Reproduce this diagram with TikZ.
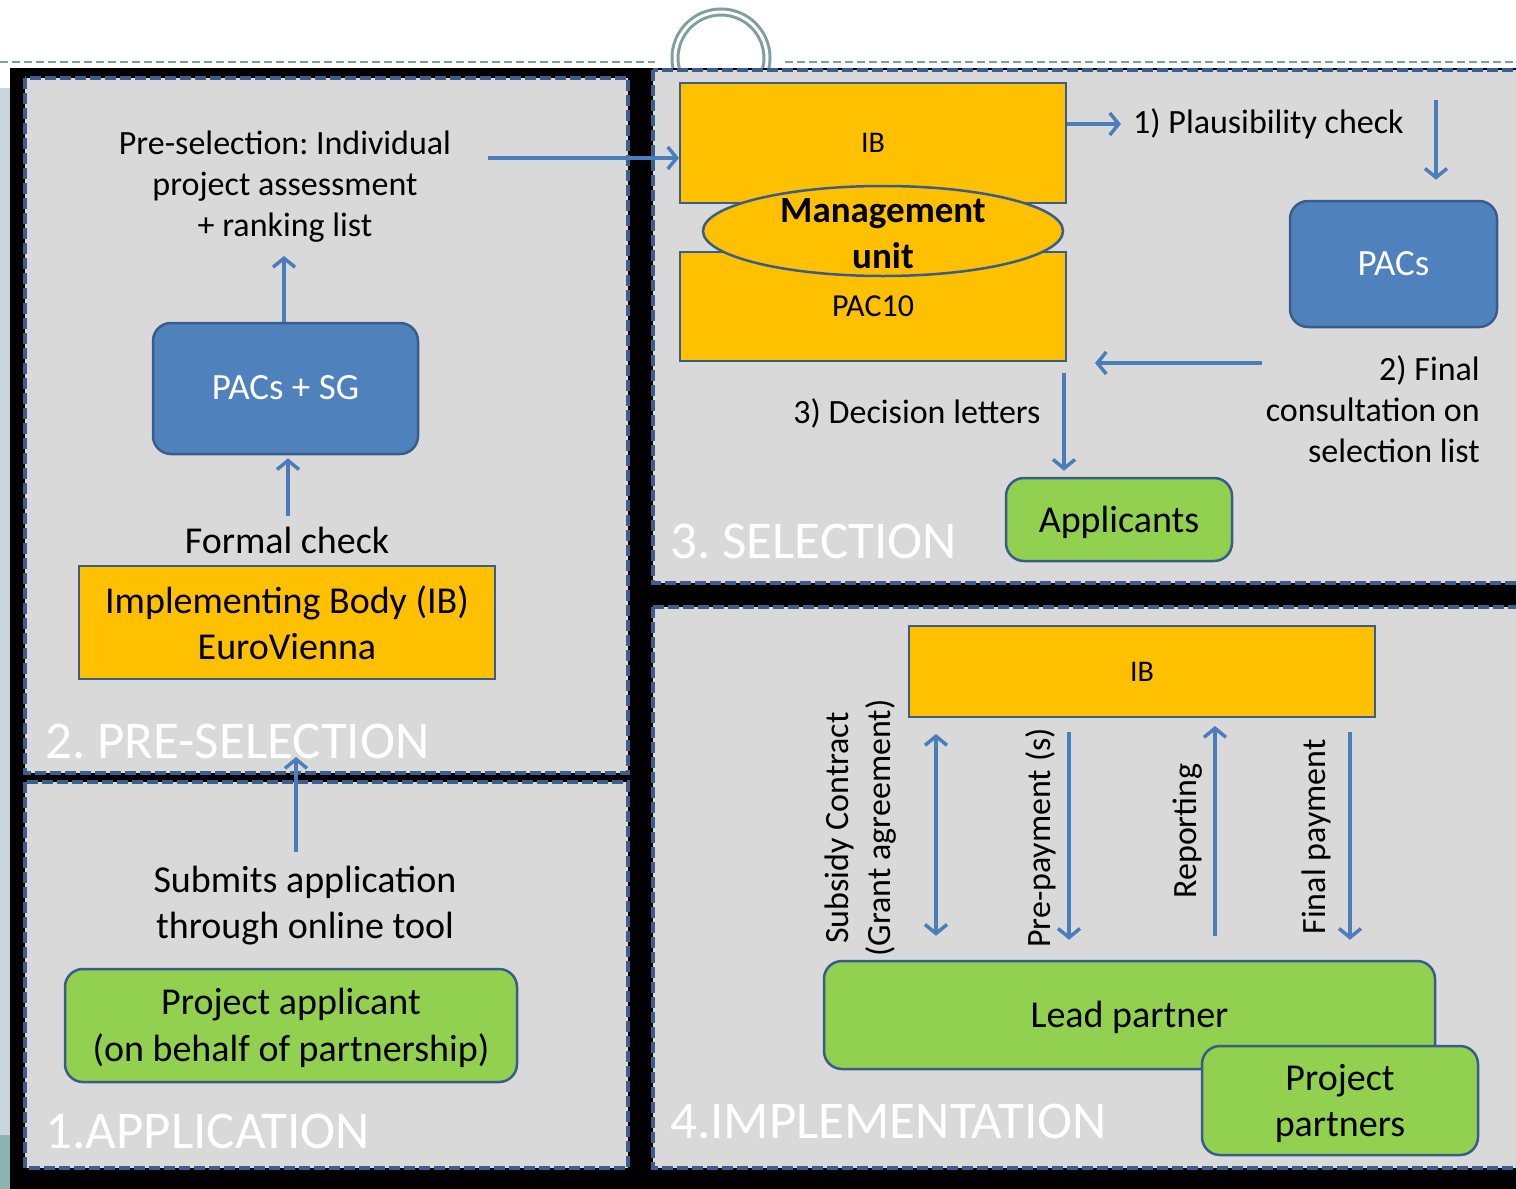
\documentclass[tikz,border=0pt]{standalone}
\usepackage{fontspec}
\setmainfont{Carlito}
\usetikzlibrary{arrows.meta,shapes.geometric}
\definecolor{orng}{HTML}{FFC000}
\definecolor{bfill}{HTML}{4F81BD}
\definecolor{bdr}{HTML}{385D8A}
\definecolor{grn}{HTML}{92D050}
\definecolor{arr}{HTML}{4A7EBB}
\definecolor{panelgray}{HTML}{D9D9D9}
\definecolor{dashblue}{HTML}{3B5E8C}
\definecolor{topline}{HTML}{7F9F9F}
\definecolor{stripA}{HTML}{C8D5DC}
\definecolor{stripB}{HTML}{8EB4B1}
\begin{document}
\frenchspacing
\begin{tikzpicture}[x=1pt,y=-1pt,
  panelbox/.style={fill=panelgray,draw=dashblue,line width=3.5pt,dash pattern=on 11pt off 4pt},
  orbox/.style={draw=bdr,fill=orng,line width=2pt,inner sep=0pt},
  bluebox/.style={draw=bdr,fill=bfill,line width=2.5pt,rounded corners=18pt,inner sep=0pt,text=white},
  greenbox/.style={draw=bdr,fill=grn,line width=2.5pt,rounded corners=18pt,inner sep=0pt},
  flow/.style={draw=arr,line width=3.5pt,-{Straight Barb[length=9pt,width=22pt]}},
  flowboth/.style={draw=arr,line width=3.5pt,{Straight Barb[length=9pt,width=22pt]}-{Straight Barb[length=9pt,width=22pt]}},
  lbl/.style={inner sep=2pt,align=center},
  title/.style={text=white,font=\fontsize{53}{53}\selectfont\frenchspacing,anchor=base west,inner sep=0pt}
]
\useasboundingbox (0,0) rectangle (1516,1189);
\fill[white] (0,0) rectangle (1516,1189);
% left strips
\fill[stripA] (0,88) rectangle (12,1135);
\fill[stripB] (0,1135) rectangle (12,1189);
% top dashed line and ring
\draw[topline,line width=2pt,dash pattern=on 8pt off 4pt] (0,62) -- (655,62);
\draw[topline,line width=2pt,dash pattern=on 8pt off 4pt] (785,62) -- (1516,62);
\draw[topline,line width=3pt,double=white,double distance=3pt] (721,58) circle[radius=46];
% black frame
\fill[black] (10,68) rectangle (1516,1189);
% panels
\draw[panelbox] (25,78) rectangle (628,773);
\draw[panelbox] (25,782) rectangle (628,1168);
\draw[panelbox] (653,70) rectangle (1530,583);
\draw[panelbox] (653,607) rectangle (1530,1168);

% ---------- 2. PRE-SELECTION ----------
\node[lbl,font=\fontsize{34}{41}\selectfont] (psel) at (285,187) {Pre-selection: Individual\\project assessment\\+ ranking list};
\node[bluebox,minimum width=265pt,minimum height=131pt,text depth=2pt,font=\fontsize{37}{44}\selectfont] (pacsg) at (285.5,388.5) {PACs + SG};
\node[lbl,font=\fontsize{38}{46}\selectfont] (formal) at (287,540) {Formal check};
\node[orbox,minimum width=416pt,minimum height=113pt,align=center,font=\fontsize{38}{46}\selectfont] (ib2) at (287,622.5) {Implementing Body (IB)\\EuroVienna};
\node[title] (t2) at (45,758) {2. PRE-SELECTION};

% ---------- 1. APPLICATION ----------
\node[lbl,font=\fontsize{38}{46}\selectfont] (submit) at (305,906) {Submits application\\through online tool};
\node[greenbox,minimum width=452pt,minimum height=113pt,align=center,text depth=2pt,font=\fontsize{38}{47}\selectfont] (applicant) at (291,1025.5) {Project applicant\\(on behalf of partnership)};
\node[title] (t1) at (45,1148) {1.APPLICATION};

% ---------- 3. SELECTION ----------
\node[orbox,minimum width=386pt,minimum height=120pt,font=\fontsize{30}{36}\selectfont] (ib3) at (873,143) {IB};
\node[orbox,minimum width=386pt,minimum height=109pt,font=\fontsize{32}{36}\selectfont] (pac10) at (873,306.5) {PAC10};
\node[ellipse,draw=bdr,fill=orng,line width=2.5pt,minimum width=360pt,minimum height=90pt,inner sep=0pt] (mu) at (883,231) {};
\node[lbl,font=\bfseries\fontsize{37}{46}\selectfont] (mutext) at (883,234) {Management\\unit};
\node[lbl,anchor=west,font=\fontsize{34}{41}\selectfont] (plaus) at (1131,124) {1) Plausibility check};
\node[bluebox,minimum width=207pt,minimum height=126pt,text depth=2pt,font=\fontsize{37}{44}\selectfont] (pacs) at (1393.5,264) {PACs};
\node[lbl,anchor=east,align=right,font=\fontsize{34}{41}\selectfont] (final) at (1482,409) {2) Final\\consultation on\\selection list};
\node[lbl,font=\fontsize{34}{41}\selectfont] (declet) at (917,413) {3) Decision letters};
\node[greenbox,minimum width=226pt,minimum height=83pt,text depth=0pt,font=\fontsize{38}{44}\selectfont] (appl) at (1119,519.5) {Applicants};
\node[title] (t3) at (670,558) {3. SELECTION};

% ---------- 4. IMPLEMENTATION ----------
\node[orbox,minimum width=466pt,minimum height=91pt,font=\fontsize{30}{36}\selectfont] (ib4) at (1142,671.5) {IB};
\node[greenbox,minimum width=611pt,minimum height=108pt,text depth=1pt,font=\fontsize{38}{44}\selectfont] (lead) at (1129.5,1015) {Lead partner};
\node[greenbox,minimum width=276pt,minimum height=109pt,align=center,text depth=0pt,font=\fontsize{38}{46}\selectfont] (partners) at (1340,1100.5) {Project\\partners};
\node[lbl,rotate=90,font=\fontsize{34}{42}\selectfont] (subsidy) at (861,828) {Subsidy Contract\\(Grant agreement)};
\node[lbl,rotate=90,font=\fontsize{34}{42}\selectfont] (prepay) at (1041,838) {Pre-payment (s)};
\node[lbl,rotate=90,font=\fontsize{34}{42}\selectfont] (report) at (1188,831) {Reporting};
\node[lbl,rotate=90,font=\fontsize{34}{42}\selectfont] (finpay) at (1316,837) {Final payment};
\node[title] (t4) at (670,1138) {4.IMPLEMENTATION};

% ---------- connectors ----------
\coordinate (pselout) at (488,158);
\draw[flow] (pselout) -- (ib3.west |- pselout);
\draw[flow,shorten >=11pt] ([xshift=-1.5pt]pacsg.north) -- ([xshift=-1.5pt]pacsg.north |- psel.south);
\draw[flow,shorten <=8pt,shorten >=3pt] ([xshift=1pt]formal.north) -- ([xshift=2.5pt]pacsg.south);
\coordinate (subout) at (296,852);
\draw[flow] (subout) -- (296,757);
\draw[flow,shorten >=10pt] (ib3.east |- plaus.west) -- (plaus.west);
\coordinate (plausdown) at (1436,100);
\draw[flow,shorten >=20pt] (plausdown) -- (plausdown |- pacs.north);
\coordinate (finout) at (1262,363);
\draw[flow,shorten >=28pt] (finout) -- (pac10.east |- finout);
\coordinate (decout) at (1064,373);
\draw[flow,shorten >=6pt] (decout) -- (decout |- appl.north);
\draw[flowboth,shorten <=16pt,shorten >=24pt] ([xshift=-206pt]ib4.south) -- ([xshift=-206pt]ib4.south |- lead.north);
\draw[flow,shorten <=14pt,shorten >=20pt] ([xshift=-73pt]ib4.south) -- ([xshift=-73pt]ib4.south |- lead.north);
\draw[flow,shorten <=24pt,shorten >=8pt] ([xshift=73pt]ib4.south |- lead.north) -- ([xshift=73pt]ib4.south);
\draw[flow,shorten <=14pt,shorten >=20pt] ([xshift=208pt]ib4.south) -- ([xshift=208pt]ib4.south |- lead.north);
\end{tikzpicture}
\end{document}
